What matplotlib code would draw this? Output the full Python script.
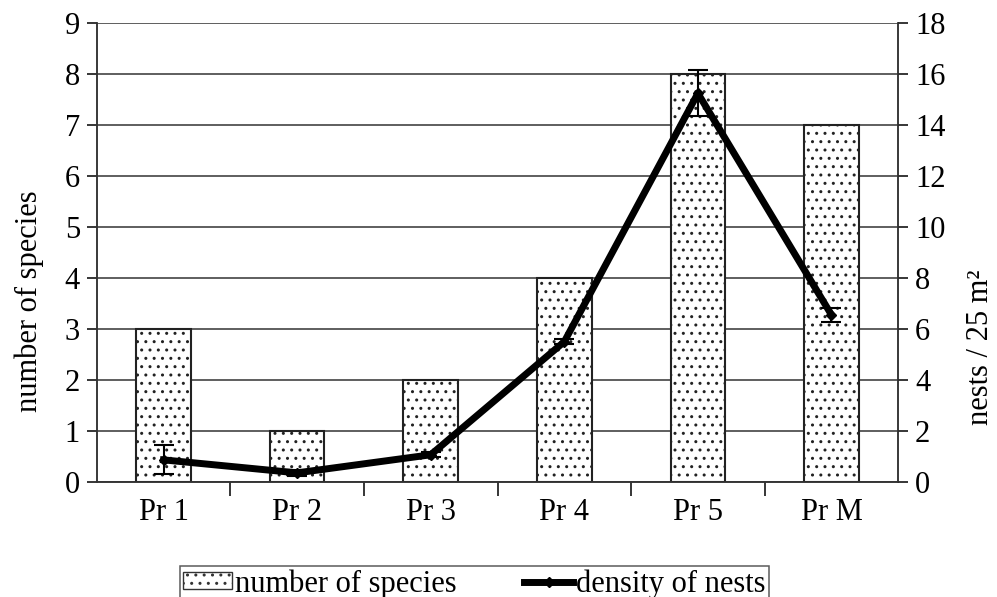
import numpy as np
import matplotlib.pyplot as plt
from matplotlib.lines import Line2D
from matplotlib.patches import Patch

plt.rcParams['font.family'] = ['Liberation Serif', 'DejaVu Serif']
plt.rcParams['hatch.linewidth'] = 1.0

# data
sites = ["Pr 1", "Pr 2", "Pr 3", "Pr 4", "Pr 5", "Pr M"]
species = [3, 1, 2, 4, 8, 7]
nests = [0.86, 0.35, 1.06, 5.5, 15.25, 6.55]
nests_err = [0.57, 0.12, 0.1, 0.1, 0.9, 0.28]

x = np.arange(len(sites))
fs = 22

fig = plt.figure(figsize=(9.97, 5.97), dpi=100)
ax = fig.add_axes([0.097, 0.193, 0.804, 0.768])
ax2 = ax.twinx()

ax.bar(x, species, width=0.41, color='white', edgecolor='#222222',
       linewidth=1.5, hatch='..', zorder=3)
ax.set_ylim(0, 9)
ax.set_xlim(-0.5, len(sites) - 0.5)
ax.set_yticks(range(0, 10))
ax.yaxis.grid(True, color='#333333', linewidth=1.1, zorder=0)
ax.set_axisbelow(True)

ax.set_xticks(x)
ax.set_xticklabels(sites)
ax.set_xticks(np.arange(0.5, len(sites) - 0.5, 1), minor=True)
ax.tick_params(axis='x', which='major', length=0, pad=12, labelsize=fs)
ax.tick_params(axis='x', which='minor', length=10, width=1.1, direction='out')
ax.tick_params(axis='y', length=7, width=1.1, labelsize=fs, pad=5)
ax.set_ylabel("number of species", fontsize=fs)
ax.yaxis.set_label_coords(-0.066, 0.394)

ax2.errorbar(x, nests, yerr=nests_err, color='black', linewidth=5,
             marker='D', markersize=5, elinewidth=1.5, capsize=7, capthick=1.5,
             zorder=5)
ax2.set_ylim(0, 18)
ax2.set_yticks(range(0, 19, 2))
ax2.tick_params(axis='y', length=7, width=1.1, labelsize=fs, pad=5)
ax2.set_ylabel("nests / 25 m²", fontsize=fs)
ax2.yaxis.set_label_coords(1.084, 0.294)

for a in (ax, ax2):
    a.spines['top'].set_visible(False)
    for s in ('left', 'right', 'bottom'):
        a.spines[s].set_color('#333333')
        a.spines[s].set_linewidth(1.1)

handles = [Patch(facecolor='white', edgecolor='#333333', hatch='..', linewidth=1),
           Line2D([0], [0], color='black', linewidth=5, marker='D', markersize=5)]
leg = fig.legend(handles, ["number of species", "density of nests"], ncol=2,
                 loc='upper center', bbox_to_anchor=(0.476, 0.052),
                 frameon=True, fancybox=False, edgecolor='#333333',
                 fontsize=fs, handlelength=1.6, handleheight=0.5,
                 handletextpad=0.1, columnspacing=2.2, borderpad=0.1,
                 borderaxespad=0)
leg.get_frame().set_linewidth(1.1)

fig.savefig("out.png", dpi=100)
